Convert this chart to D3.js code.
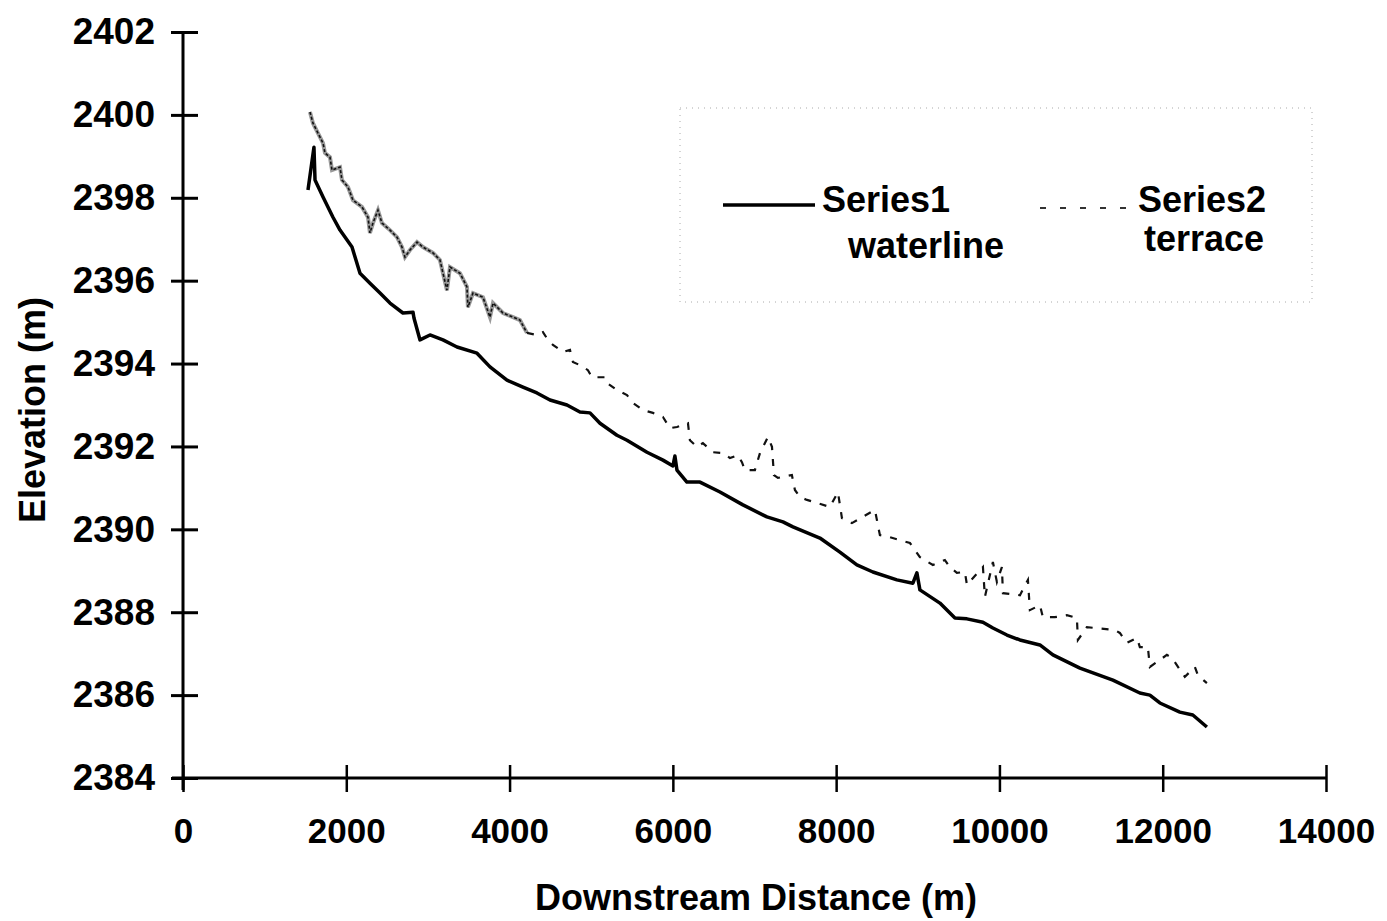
<!DOCTYPE html>
<html>
<head>
<meta charset="utf-8">
<script src="https://cdn.jsdelivr.net/npm/d3@7"></script>
<style>
  body { margin: 0; background: #fff; }
  svg text { font-family: "Liberation Sans", Arial, sans-serif; font-weight: bold; fill: #000; }
</style>
</head>
<body>
<svg width="1387" height="921"></svg>
<script>
var svg = d3.select('svg');

// axis ticks
var xTicks = [0, 2000, 4000, 6000, 8000, 10000, 12000, 14000];
var yTicks = [2384, 2386, 2388, 2390, 2392, 2394, 2396, 2398, 2400, 2402];

// Series1 - waterline (distance m, elevation m)
var waterDist = [1531, 1604, 1617, 1715, 1837, 1923, 2070, 2168, 2290, 2413, 2535, 2694, 2817, 2829, 2903, 3025,
  3184, 3356, 3601, 3760, 3968, 4164, 4335, 4495, 4703, 4862, 4985, 5107, 5315, 5438, 5683, 5879, 6001, 6025,
  6050, 6172, 6332, 6577, 6858, 7152, 7348, 7471, 7801, 8046, 8254, 8450, 8744, 8940, 8989, 9026, 9271, 9455,
  9602, 9798, 9920, 10092, 10251, 10496, 10655, 10986, 11390, 11720, 11843, 11965, 12210, 12369, 12541];
var waterElev = [2398.19, 2399.22, 2398.43, 2398.02, 2397.53, 2397.22, 2396.81, 2396.18, 2395.94, 2395.70, 2395.46,
  2395.22, 2395.24, 2395.10, 2394.57, 2394.69, 2394.57, 2394.40, 2394.25, 2393.92, 2393.60, 2393.43, 2393.29,
  2393.12, 2393.00, 2392.83, 2392.81, 2392.56, 2392.27, 2392.15, 2391.86, 2391.67, 2391.53, 2391.77, 2391.43,
  2391.14, 2391.14, 2390.90, 2390.59, 2390.30, 2390.18, 2390.06, 2389.79, 2389.45, 2389.14, 2388.97, 2388.78,
  2388.70, 2388.95, 2388.54, 2388.22, 2387.86, 2387.84, 2387.76, 2387.62, 2387.45, 2387.33, 2387.21, 2386.97,
  2386.65, 2386.36, 2386.05, 2386.00, 2385.81, 2385.59, 2385.52, 2385.23];

// Series2 - terrace
var terraceDist = [1555, 1592, 1653, 1715, 1739, 1800, 1825, 1923, 1947, 2021, 2082, 2192, 2266, 2290, 2327, 2388,
  2437, 2535, 2621, 2682, 2719, 2780, 2866, 2939, 3062, 3147, 3233, 3270, 3392, 3478, 3490, 3552, 3674, 3760,
  3797, 3919, 4042, 4127, 4213, 4335, 4409, 4470, 4531, 4654, 4740, 4776, 4862, 4960, 5009, 5168, 5193, 5315,
  5438, 5511, 5634, 5756, 5879, 5964, 6050, 6185, 6209, 6295, 6368, 6491, 6613, 6699, 6797, 6846, 6883, 7005,
  7067, 7165, 7214, 7238, 7287, 7458, 7495, 7556, 7642, 7924, 8022, 8071, 8193, 8475, 8536, 8659, 8904, 9026,
  9185, 9332, 9393, 9479, 9577, 9602, 9798, 9822, 9920, 9969, 10030, 10043, 10251, 10349, 10373, 10496, 10532,
  10679, 10826, 10949, 10961, 11071, 11414, 11475, 11561, 11684, 11720, 11818, 11843, 12051, 12112, 12271,
  12394, 12431, 12541];
var terraceElev = [2400.07, 2399.80, 2399.56, 2399.32, 2399.08, 2398.98, 2398.67, 2398.74, 2398.43, 2398.26,
  2397.94, 2397.78, 2397.53, 2397.15, 2397.39, 2397.70, 2397.39, 2397.22, 2397.05, 2396.81, 2396.57, 2396.74,
  2396.93, 2396.81, 2396.67, 2396.50, 2395.77, 2396.33, 2396.18, 2395.85, 2395.36, 2395.70, 2395.60, 2395.12,
  2395.46, 2395.22, 2395.12, 2395.05, 2394.74, 2394.69, 2394.76, 2394.57, 2394.45, 2394.28, 2394.33, 2394.04,
  2393.96, 2393.84, 2393.67, 2393.67, 2393.53, 2393.36, 2393.24, 2393.05, 2392.88, 2392.81, 2392.71, 2392.44,
  2392.47, 2392.56, 2392.15, 2391.99, 2392.08, 2391.86, 2391.84, 2391.72, 2391.79, 2391.62, 2391.43, 2391.43,
  2391.84, 2392.23, 2391.99, 2391.31, 2391.24, 2391.31, 2390.95, 2390.78, 2390.71, 2390.54, 2390.90, 2390.27,
  2390.15, 2390.47, 2389.86, 2389.81, 2389.67, 2389.33, 2389.14, 2389.26, 2389.09, 2388.95, 2388.97, 2388.66,
  2389.09, 2388.37, 2389.21, 2388.73, 2389.09, 2388.46, 2388.41, 2388.78, 2388.05, 2388.17, 2387.88, 2387.88,
  2387.93, 2387.86, 2387.33, 2387.64, 2387.57, 2387.50, 2387.26, 2387.38, 2387.16, 2387.16, 2386.68, 2386.97,
  2386.90, 2386.44, 2386.68, 2386.48, 2386.29];

var ScaleX = d3.scaleLinear().domain([0, 14000]).range([183, 1326]);
var ScaleY = d3.scaleLinear().domain([2384, 2402]).range([778, 32]);

// y axis
var yAxis = svg.append('g')
    .attr('transform', 'translate(183,0)')
    .call(d3.axisLeft(ScaleY).tickValues(yTicks).tickFormat(d3.format('d')).tickSize(12));
yAxis.select('.domain').attr('d', 'M0,32V790').attr('stroke', '#000').attr('stroke-width', 3);
yAxis.selectAll('.tick line').attr('x1', 15).attr('x2', -12).attr('stroke-width', 3);
yAxis.selectAll('.tick text').style('font-size', '37px').style('font-family', '"Liberation Sans", Arial, sans-serif')
    .style('font-weight', 'bold').attr('x', -28);

// x axis
var xAxis = svg.append('g')
    .attr('transform', 'translate(0,778)')
    .call(d3.axisBottom(ScaleX).tickValues(xTicks).tickFormat(d3.format('d')).tickSize(14));
xAxis.select('.domain').attr('d', 'M172,0H1327').attr('stroke', '#000').attr('stroke-width', 3);
xAxis.selectAll('.tick line').attr('y1', -13).attr('y2', 14).attr('stroke-width', 2.5);
xAxis.selectAll('.tick text').style('font-size', '35px').style('font-family', '"Liberation Sans", Arial, sans-serif')
    .style('font-weight', 'bold').attr('y', 40);

// axis titles
svg.append('text')
    .text('Downstream Distance (m)')
    .attr('x', 756).attr('y', 910)
    .style('font-size', '36px')
    .style('text-anchor', 'middle');

svg.append('text')
    .text('Elevation (m)')
    .attr('transform', 'translate(45,410)rotate(-90)')
    .style('font-size', '36px')
    .style('text-anchor', 'middle');

// series
var waterData = waterDist.map(function(d, i){ return [d, waterElev[i]]; });
var terraceData = terraceDist.map(function(d, i){ return [d, terraceElev[i]]; });

var line = d3.line()
    .x(function(d){ return ScaleX(d[0]); })
    .y(function(d){ return ScaleY(d[1]); });

// terrace: dense jittery upper reach, sparse dashes downstream
var terraceUpper = terraceData.filter(function(d){ return d[0] <= 4300; });
var terraceLower = terraceData.filter(function(d){ return d[0] >= 4213; });

svg.append('path')
    .attr('d', line(terraceUpper))
    .attr('fill', 'none')
    .attr('stroke', '#999')
    .attr('stroke-width', 4);
svg.append('path')
    .attr('d', line(terraceUpper))
    .attr('fill', 'none')
    .attr('stroke', '#111')
    .attr('stroke-width', 1.6)
    .attr('stroke-dasharray', '3,2');
svg.append('path')
    .attr('d', line(terraceLower))
    .attr('fill', 'none')
    .attr('stroke', '#111')
    .attr('stroke-width', 2.2)
    .attr('stroke-dasharray', '7,9');

svg.append('path')
    .attr('d', line(waterData))
    .attr('fill', 'none')
    .attr('stroke', '#000')
    .attr('stroke-width', 3.5)
    .attr('stroke-linejoin', 'round');

// legend
var legend = svg.append('g');
legend.append('rect')
    .attr('x', 680).attr('y', 108).attr('width', 632).attr('height', 194)
    .attr('fill', 'none')
    .attr('stroke', '#aaa')
    .attr('stroke-width', 1)
    .attr('stroke-dasharray', '1,5');

legend.append('line')
    .attr('x1', 723).attr('x2', 815).attr('y1', 205).attr('y2', 205)
    .attr('stroke', '#000').attr('stroke-width', 3.5);
legend.append('text').text('Series1')
    .attr('x', 822).attr('y', 212).style('font-size', '36px');
legend.append('text').text('waterline')
    .attr('x', 926).attr('y', 258).style('font-size', '36px').style('text-anchor', 'middle');

legend.append('line')
    .attr('x1', 1040).attr('x2', 1132).attr('y1', 208).attr('y2', 208)
    .attr('stroke', '#333').attr('stroke-width', 2)
    .attr('stroke-dasharray', '6,14');
legend.append('text').text('Series2')
    .attr('x', 1138).attr('y', 212).style('font-size', '36px');
legend.append('text').text('terrace')
    .attr('x', 1204).attr('y', 251).style('font-size', '36px').style('text-anchor', 'middle');
</script>
</body>
</html>
